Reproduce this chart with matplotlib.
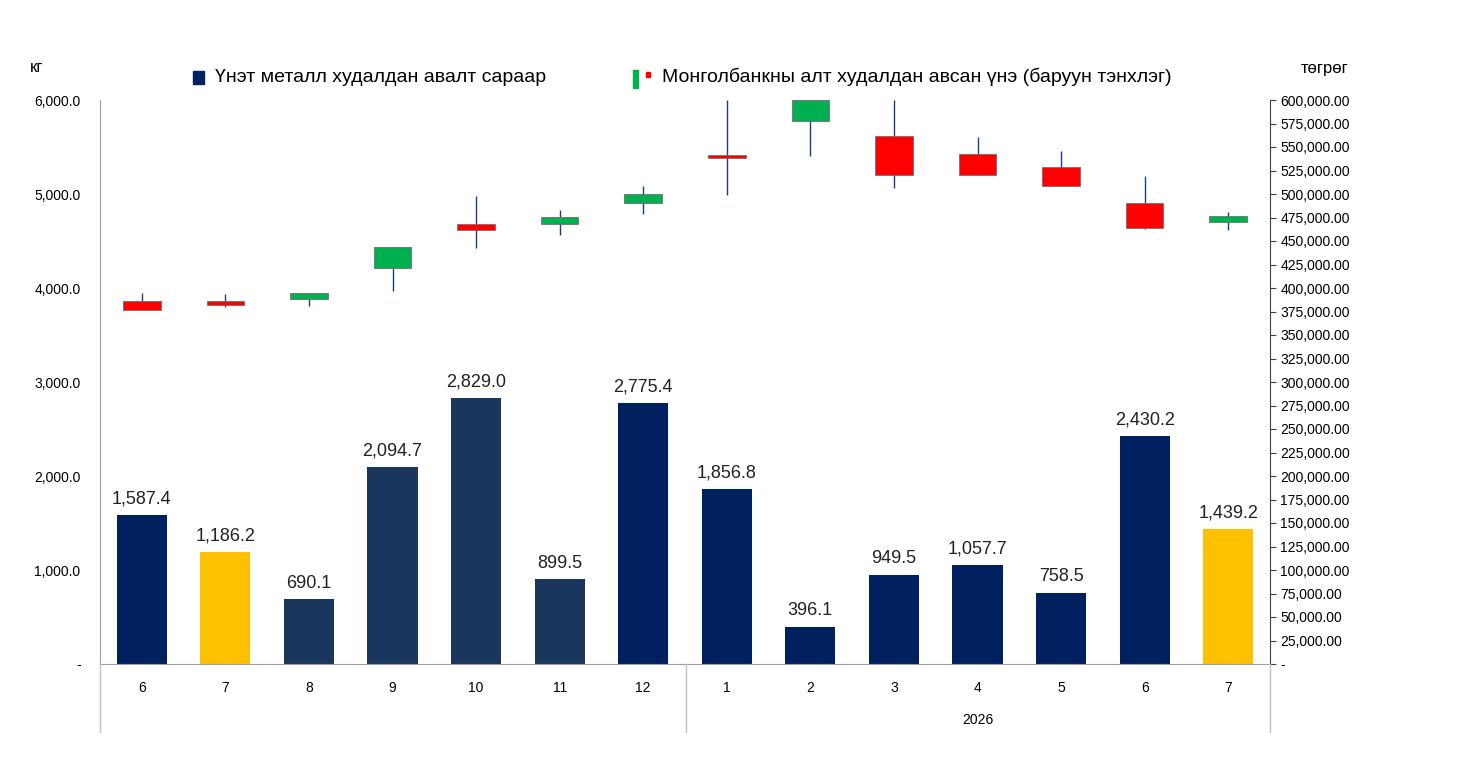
import matplotlib.pyplot as plt
import numpy as np
from matplotlib.ticker import FuncFormatter

months = ['6', '7', '8', '9', '10', '11', '12', '1', '2', '3', '4', '5', '6', '7']
volume = [1587.4, 1186.2, 690.1, 2094.7, 2829.0, 899.5, 2775.4, 1856.8, 396.1, 949.5, 1057.7, 758.5, 2430.2, 1439.2]
bar_colors = ['#002060', '#FFC000', '#1B365D', '#1B365D', '#1B365D', '#1B365D', '#002060',
              '#002060', '#002060', '#002060', '#002060', '#002060', '#002060', '#FFC000']
p_open = [386200, 386000, 388300, 421300, 468000, 468000, 490400, 541500, 577700, 561700, 542600, 528700, 490400, 470200]
p_close = [376600, 382000, 394700, 443600, 461700, 475500, 500000, 538300, 600000, 520200, 520200, 508500, 463800, 476600]
p_high = [394700, 393600, 394700, 443600, 497900, 483000, 508500, 600000, 600000, 600000, 560600, 545700, 519100, 480900]
p_low = [376600, 379800, 380900, 396800, 442600, 456400, 478700, 498900, 540400, 506400, 520200, 508500, 462800, 461700]

plt.rcParams['font.family'] = ['Liberation Sans', 'DejaVu Sans']
fig = plt.figure(figsize=(14.6, 7.67), dpi=100)
ax = fig.add_axes([100/1460, 1-664/767, 1170/1460, 564/767])
x = np.arange(len(months))
bars = ax.bar(x, volume, width=0.6, color=bar_colors, zorder=2)
for xi, v in zip(x, volume):
    ax.text(xi, v + 80, f'{v:,.1f}', ha='center', va='bottom', fontsize=13, color='#222222')
ax.set_xlim(-0.5, len(months) - 0.5)
ax.set_ylim(0, 6000)
ax.set_yticks(np.arange(0, 6001, 1000))
ax.yaxis.set_major_formatter(FuncFormatter(lambda v, p: '-' if v == 0 else f'{v:,.1f}'))
ax.set_xticks(x)
ax.set_xticklabels(months)
ax.tick_params(axis='x', length=0, pad=12, labelsize=10)
ax.tick_params(axis='y', length=0, labelsize=10, pad=14)
for s in ['top', 'right']:
    ax.spines[s].set_visible(False)
ax.spines['left'].set_color('#a0a0a0')
ax.spines['bottom'].set_color('#a0a0a0')

ax2 = ax.twinx()
ax2.set_ylim(0, 600000)
ax2.set_yticks(np.arange(0, 600001, 25000))
ax2.yaxis.set_major_formatter(FuncFormatter(lambda v, p: '-' if v == 0 else f'{v:,.2f}'))
ax2.tick_params(axis='y', labelsize=10, length=4, color='#404040')
for s in ['top', 'left', 'bottom']:
    ax2.spines[s].set_visible(False)
ax2.spines['right'].set_color('#404040')
for xi, o, c, h, l in zip(x, p_open, p_close, p_high, p_low):
    ax2.vlines(xi, l, h, color='#1F3C88', lw=1, zorder=3)
    col = '#00B050' if c >= o else '#FF0000'
    lo, hi = min(o, c), max(o, c)
    ax2.bar(xi, max(hi - lo, 3000), bottom=lo, width=0.45, color=col,
            edgecolor='#707070', lw=0.6, zorder=4)

# category separators and year label
for xp in [100, 686, 1270]:
    fig.add_artist(plt.Line2D([xp/1460, xp/1460], [1-664/767, 1-732/767], color='#c0c0c0', lw=1))
fig.text(978/1460, 1-720/767, '2026', ha='center', va='center', fontsize=10)

fig.text(37/1460, 1-68/767, 'кг', ha='center', va='center', fontsize=12)
fig.text(1325/1460, 1-68/767, 'төгрөг', ha='center', va='center', fontsize=12)
fig.add_artist(plt.Rectangle((193/1460, 1-84/767), 11/1460, 13/767, color='#002060'))
fig.text(215/1460, 1-77/767, 'Үнэт металл худалдан авалт сараар', va='center', fontsize=14)
fig.add_artist(plt.Rectangle((633/1460, 1-88/767), 5/1460, 18/767, color='#00B050'))
fig.add_artist(plt.Rectangle((646/1460, 1-77/767), 4/1460, 5/767, color='#FF0000'))
fig.text(662/1460, 1-77/767, 'Монголбанкны алт худалдан авсан үнэ (баруун тэнхлэг)', va='center', fontsize=14)

fig.savefig('out.png', dpi=100)
